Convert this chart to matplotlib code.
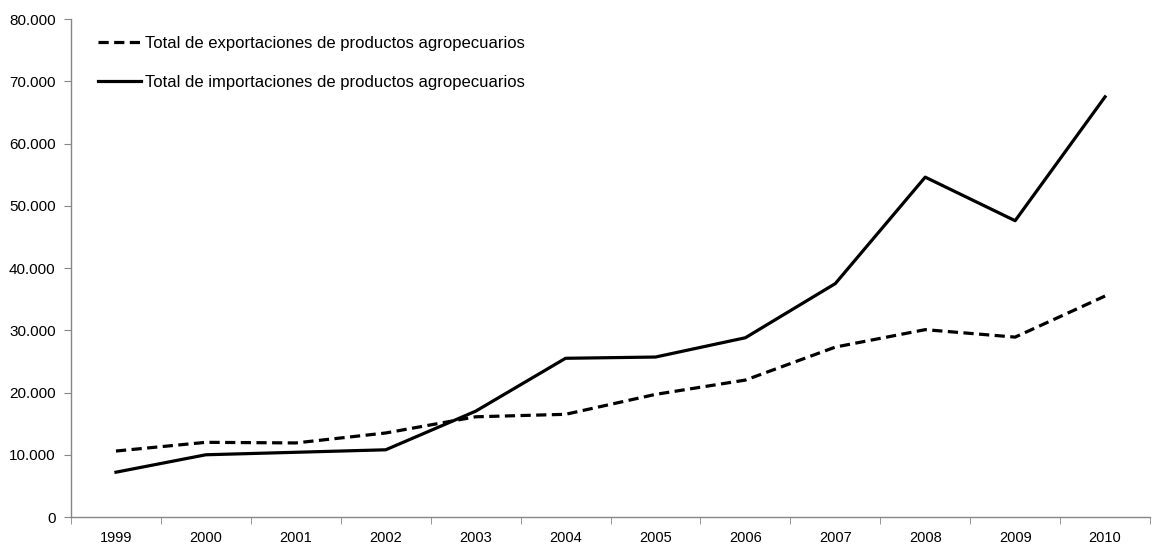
import matplotlib.pyplot as plt
from matplotlib.ticker import FuncFormatter

plt.rcParams["font.family"] = ["Liberation Sans", "DejaVu Sans"]

years = ["1999", "2000", "2001", "2002", "2003", "2004",
         "2005", "2006", "2007", "2008", "2009", "2010"]
exportaciones = [10600, 12000, 11900, 13500, 16100, 16500,
                 19700, 22000, 27300, 30100, 28900, 35500]
importaciones = [7200, 10000, 10400, 10800, 17000, 25500,
                 25700, 28800, 37500, 54600, 47600, 67500]

fig = plt.figure(figsize=(11.68, 5.44), dpi=100)
ax = fig.add_axes([0.0608, 0.0496, 0.9238, 0.9154])

x = range(len(years))
ax.plot(x, exportaciones, color="black", lw=2.3, linestyle=(0, (3.2, 1.7)),
        label="Total de exportaciones de productos agropecuarios")
ax.plot(x, importaciones, color="black", lw=2.3,
        label="Total de importaciones de productos agropecuarios")

ax.set_xlim(-0.5, len(years) - 0.5)
ax.set_ylim(0, 80000)
ax.set_yticks(range(0, 80001, 10000))
ax.yaxis.set_major_formatter(
    FuncFormatter(lambda v, p: "0" if v == 0 else f"{int(v):,}".replace(",", ".")))
ax.set_xticks(x)
ax.set_xticklabels(years, fontsize=10.5)
ax.set_xticks([i - 0.5 for i in range(len(years) + 1)], minor=True)
ax.tick_params(axis="x", which="major", length=0, pad=10)
ax.tick_params(axis="x", which="minor", length=5, color="#868686", direction="out")
ax.tick_params(axis="y", length=5, color="#868686", direction="out", pad=6,
               labelsize=11)

for s in ["top", "right"]:
    ax.spines[s].set_visible(False)
for s in ["left", "bottom"]:
    ax.spines[s].set_color("#868686")
    ax.spines[s].set_linewidth(1)

ax.legend(loc="upper left", bbox_to_anchor=(0.011, 0.996), frameon=False,
          fontsize=12, handlelength=2.6, handletextpad=0.25, labelspacing=1.45)

fig.savefig("out.png", dpi=100)
